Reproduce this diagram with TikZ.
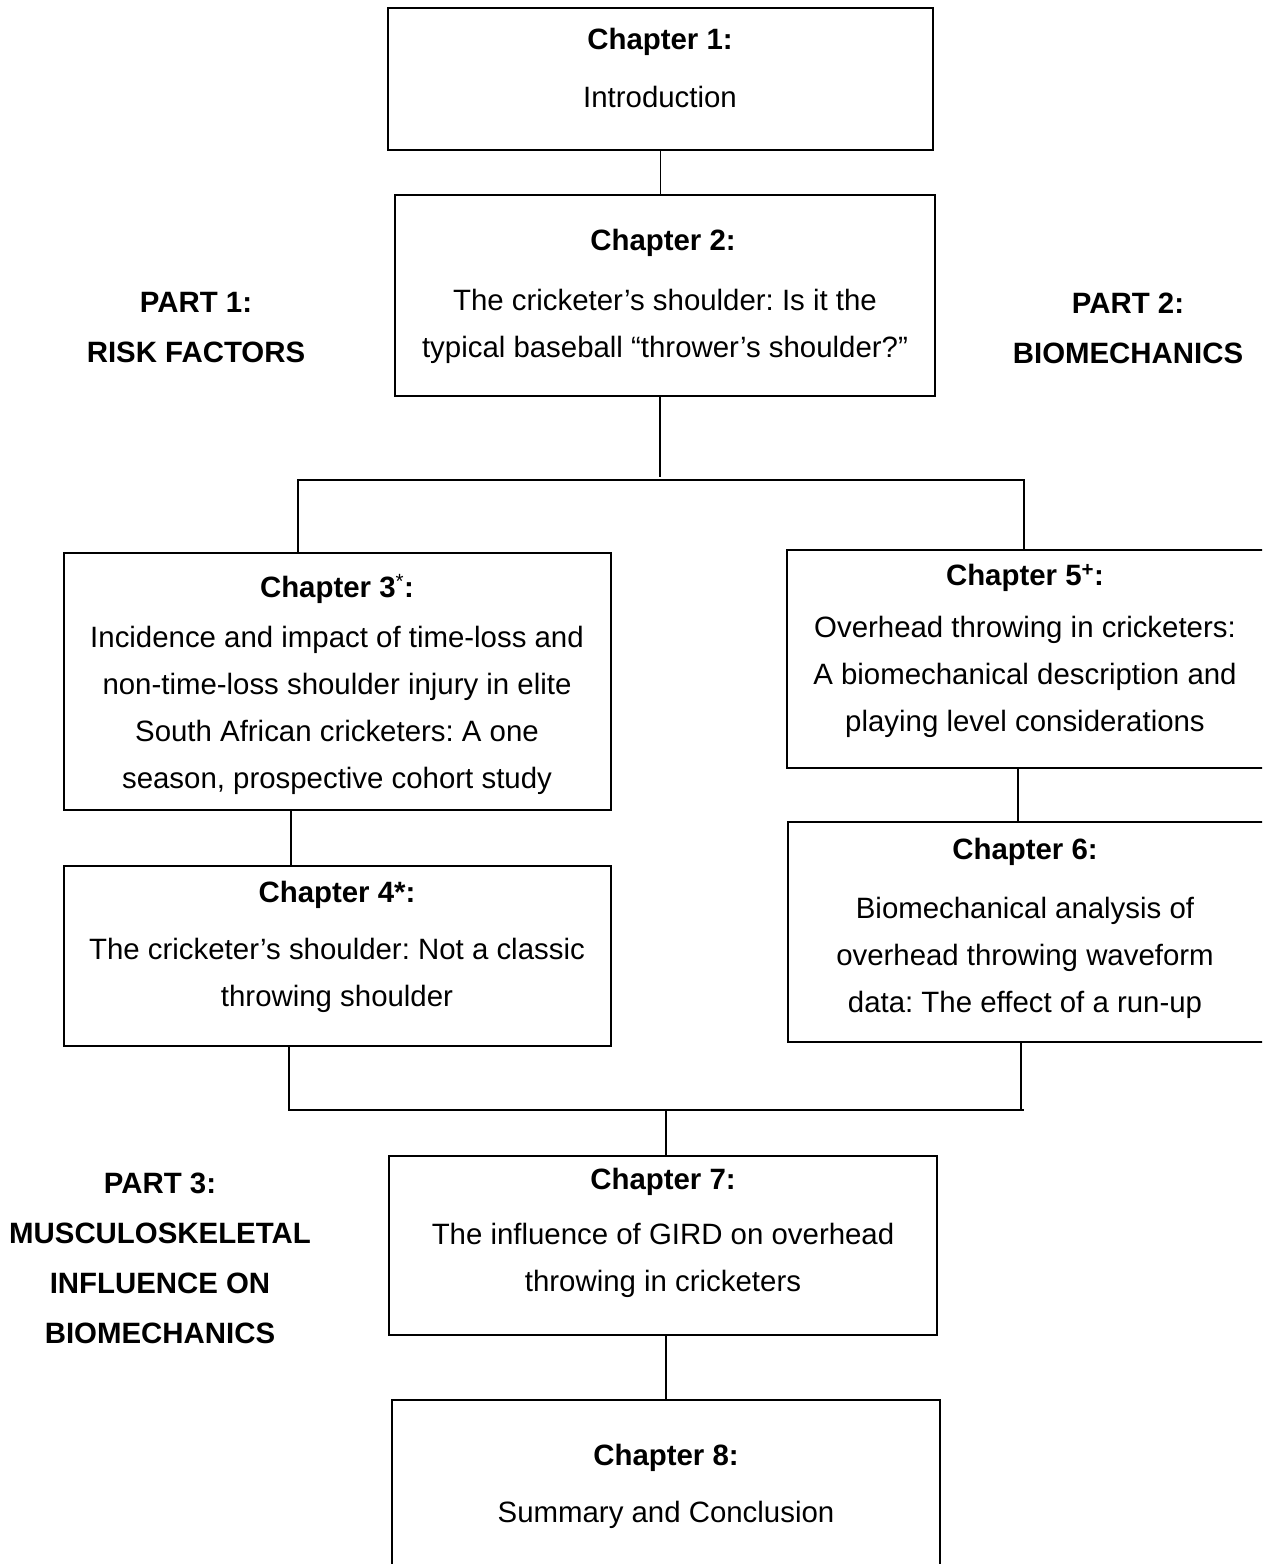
\documentclass[tikz,border=0pt]{standalone}
\usepackage{fontspec}
\setmainfont{Liberation Sans}
\begin{document}
\frenchspacing
\begin{tikzpicture}[x=1pt,y=-1pt,
  box/.style={draw, line width=2pt, rectangle, inner sep=0pt},
  link/.style={line width=1.4pt},
  head/.style={font=\fontsize{29.4}{47}\selectfont\bfseries, inner sep=0pt},
  body/.style={font=\fontsize{29.4}{47}\selectfont, align=center, inner sep=0pt},
  part/.style={font=\fontsize{29.4}{50}\selectfont\bfseries, align=center, inner sep=0pt}]
\useasboundingbox (0,0) rectangle (1262,1564);
\clip (0,0) rectangle (1262,1564);

% chapter boxes
\node[box, minimum width=545pt, minimum height=142pt] (c1) at (660.5,79) {};
\node[box, minimum width=540pt, minimum height=201pt] (c2) at (665,295.5) {};
\node[box, minimum width=547pt, minimum height=257pt] (c3) at (337.5,681.5) {};
\node[box, minimum width=547pt, minimum height=180pt] (c4) at (337.5,956) {};
\node[box, minimum width=483pt, minimum height=218pt] (c5) at (1028.5,659) {};
\node[box, minimum width=482pt, minimum height=220pt] (c6) at (1029,932) {};
\node[box, minimum width=548pt, minimum height=179pt] (c7) at (663,1245.5) {};
\node[box, minimum width=548pt, minimum height=175pt] (c8) at (666,1487.5) {};

% box texts
\node[head] (c1h) at (660,42) {Chapter 1:};
\node[body] (c1b) at (660,97) {Introduction};
\node[head] (c2h) at (663,243) {Chapter 2:};
\node[body] (c2b) at (665,326.5) {The cricketer’s shoulder: Is it the\\typical baseball “thrower’s shoulder?”};
\node[head] (c3h) at (337,589) {Chapter 3\textsuperscript{\mdseries*}:};
\node[body] (c3b) at (337,710) {Incidence and impact of time-loss and\\non-time-loss shoulder injury in elite\\South African cricketers: A one\\season, prospective cohort study};
\node[head] (c4h) at (337,895) {Chapter 4*:};
\node[body] (c4b) at (337,975.5) {The cricketer’s shoulder: Not a classic\\throwing shoulder};
\node[head] (c5h) at (1025,578) {Chapter 5\textsuperscript{+}:};
\node[body] (c5b) at (1025,677) {Overhead throwing in cricketers:\\A biomechanical description and\\playing level considerations};
\node[head] (c6h) at (1025,852) {Chapter 6:};
\node[body] (c6b) at (1025,958) {Biomechanical analysis of\\overhead throwing waveform\\data: The effect of a run-up};
\node[head] (c7h) at (663,1182) {Chapter 7:};
\node[body] (c7b) at (663,1260) {The influence of GIRD on overhead\\throwing in cricketers};
\node[head] (c8h) at (666,1458) {Chapter 8:};
\node[body] (c8b) at (666,1515) {Summary and Conclusion};

% part labels
\node[part] (p1) at (196,328) {PART 1:\\RISK FACTORS};
\node[part] (p2) at (1128,328) {PART 2:\\BIOMECHANICS};
\node[part] (p3) at (160,1258) {PART 3:\\MUSCULOSKELETAL\\INFLUENCE ON\\BIOMECHANICS};

% junction points
\coordinate (jt) at (660,480);
\coordinate (jl) at (298,480);
\coordinate (jr) at (1024,480);
\coordinate (bl) at (289,1110);
\coordinate (br) at (1024,1110);
\coordinate (bm) at (666,1110);

% connectors
\draw[link] (c1.south -| c1.south) -- (c1.south |- c2.north);
\draw[link] (c2.south -| jt) -- ([yshift=3pt]jt);
\draw[link] (c3.north -| jl) -- (jl) -- (jr) -- (c5.north -| jr);
\draw[link] (c3.south -| 291,0) -- (c4.north -| 291,0);
\draw[link] (c5.south -| 1018,0) -- (c6.north -| 1018,0);
\draw[link] (c4.south -| bl) -- (bl) -- (br);
\draw[link] (c6.south -| 1021,0) -- (1021,1110);
\draw[link] (bm) -- (c7.north -| bm);
\draw[link] (c7.south -| c8.north) -- (c8.north);
\end{tikzpicture}
\end{document}
